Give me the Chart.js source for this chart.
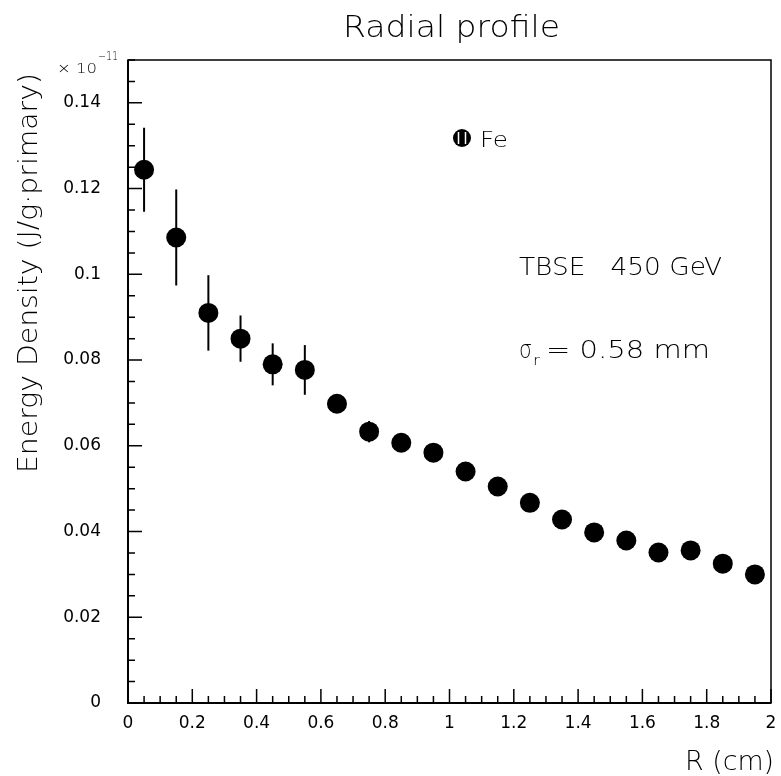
<!DOCTYPE html>
<html>
<head>
<meta charset="utf-8">
<script src="https://cdn.jsdelivr.net/npm/chart.js@4.4.0/dist/chart.umd.min.js"></script>
<style>
  html, body { margin: 0; padding: 0; background: #fff; }
  #wrap { width: 781px; height: 776px; }
</style>
</head>
<body>
<div id="wrap"><canvas id="profile"></canvas></div>
<script>
// radial profile, Fe, TBSE 450 GeV
const radius = [0.05, 0.15, 0.25, 0.35, 0.45, 0.55, 0.65, 0.75, 0.85, 0.95,
                1.05, 1.15, 1.25, 1.35, 1.45, 1.55, 1.65, 1.75, 1.85, 1.95];
const energy = [0.1244, 0.1086, 0.0910, 0.0850, 0.0790, 0.0777, 0.0698, 0.0633, 0.0607, 0.0584,
                0.0540, 0.0505, 0.0467, 0.0428, 0.0398, 0.0379, 0.0351, 0.0356, 0.0325, 0.0300];
const energyErr = [0.0098, 0.0112, 0.0088, 0.0054, 0.0049, 0.0058, 0.0015, 0.0025, 0.0015, 0.0015,
                   0.0015, 0.0015, 0.0015, 0.0015, 0.0015, 0.0015, 0.0015, 0.0015, 0.0015, 0.0015];
const yTicks = [0, 0.02, 0.04, 0.06, 0.08, 0.1, 0.12, 0.14];
const xTicks = [0, 0.2, 0.4, 0.6, 0.8, 1, 1.2, 1.4, 1.6, 1.8, 2];

const FONT = 'DejaVu Sans';

// draw text stretched/squeezed to a given width
function fitText(ctx, text, x, y, w, size) {
  ctx.save();
  ctx.font = '300 ' + size + 'px "' + FONT + '"';
  const m = ctx.measureText(text).width;
  ctx.translate(x, y);
  ctx.scale(w / m, 1);
  ctx.textAlign = 'left';
  ctx.textBaseline = 'alphabetic';
  ctx.fillText(text, 0, 0);
  ctx.restore();
}

const errorBars = {
  id: 'errorBars',
  beforeDatasetsDraw(chart) {
    const ctx = chart.ctx, xs = chart.scales.x, ys = chart.scales.y;
    ctx.save();
    ctx.strokeStyle = '#000';
    ctx.lineWidth = 2;
    radius.forEach((r, i) => {
      const px = xs.getPixelForValue(r);
      ctx.beginPath();
      ctx.moveTo(px, ys.getPixelForValue(energy[i] + energyErr[i]));
      ctx.lineTo(px, ys.getPixelForValue(energy[i] - energyErr[i]));
      ctx.stroke();
    });
    ctx.restore();
  }
};

const frame = {
  id: 'frame',
  afterDraw(chart) {
    const ctx = chart.ctx, a = chart.chartArea;
    const xs = chart.scales.x, ys = chart.scales.y;
    ctx.save();
    ctx.strokeStyle = '#000';
    ctx.lineWidth = 1.5;
    ctx.strokeRect(a.left, a.top, a.right - a.left, a.bottom - a.top);
    ctx.lineWidth = 2;
    ctx.beginPath();
    ctx.moveTo(a.left, a.top); ctx.lineTo(a.left, a.bottom); ctx.lineTo(a.right, a.bottom);
    ctx.stroke();
    // ticks pointing inwards
    ctx.lineWidth = 1.5;
    ctx.beginPath();
    for (let i = 0; i <= 30; i++) {
      const py = ys.getPixelForValue(i * 0.005);
      const len = i % 4 === 0 ? 14 : 7;
      ctx.moveTo(a.left, py); ctx.lineTo(a.left + len, py);
    }
    for (let i = 0; i <= 40; i++) {
      const px = xs.getPixelForValue(i * 0.05);
      const len = i % 4 === 0 ? 14 : 7;
      ctx.moveTo(px, a.bottom); ctx.lineTo(px, a.bottom - len);
    }
    ctx.stroke();

    ctx.fillStyle = '#000';
    fitText(ctx, 'Radial profile', 343, 37, 217, 31);
    fitText(ctx, 'R (cm)', 685, 770, 89, 27);
    fitText(ctx, '\u00d7 10', 57, 73, 40, 14);
    fitText(ctx, '\u221211', 98, 60, 20, 12);

    ctx.save();
    ctx.translate(37, 473);
    ctx.rotate(-Math.PI / 2);
    fitText(ctx, 'Energy Density (J/g\u00b7primary)', 0, 0, 400, 27);
    ctx.restore();

    // legend marker
    ctx.beginPath();
    ctx.arc(462, 138, 9, 0, Math.PI * 2);
    ctx.fill();
    ctx.strokeStyle = '#fff';
    ctx.lineWidth = 1.5;
    ctx.beginPath();
    ctx.moveTo(458.5, 132); ctx.lineTo(458.5, 144);
    ctx.moveTo(465.5, 132); ctx.lineTo(465.5, 144);
    ctx.stroke();
    fitText(ctx, 'Fe', 480, 147, 28, 21);

    fitText(ctx, 'TBSE   450 GeV', 519, 275, 203, 25);
    fitText(ctx, '\u03c3', 519, 358, 13, 25);
    fitText(ctx, 'r', 533, 365, 7, 14);
    fitText(ctx, '= 0.58 mm', 546, 358, 164, 25);
    ctx.restore();
  }
};

new Chart(document.getElementById('profile'), {
  type: 'scatter',
  data: {
    datasets: [{
      label: 'Fe',
      data: radius.map((r, i) => ({ x: r, y: energy[i] })),
      pointRadius: 10,
      pointBorderWidth: 0,
      backgroundColor: '#000',
      borderColor: '#000'
    }]
  },
  options: {
    responsive: true,
    maintainAspectRatio: false,
    animation: false,
    layout: { padding: { top: 60, right: 9, left: 0, bottom: 0 } },
    plugins: { legend: { display: false }, tooltip: { enabled: false } },
    scales: {
      x: {
        type: 'linear',
        min: 0, max: 2,
        afterBuildTicks: s => { s.ticks = xTicks.map(v => ({ value: v })); },
        afterFit: s => { s.height = 73; },
        grid: { display: false },
        border: { display: false },
        ticks: {
          color: '#000', padding: 2, maxRotation: 0, autoSkip: false,
          font: { family: FONT, size: 17 },
          callback: v => String(+v.toFixed(1))
        }
      },
      y: {
        min: 0, max: 0.15,
        afterBuildTicks: s => { s.ticks = yTicks.map(v => ({ value: v })); },
        afterFit: s => { s.width = 128; },
        grid: { display: false },
        border: { display: false },
        ticks: {
          color: '#000', padding: 19,
          font: { family: FONT, size: 17 },
          callback: v => String(+v.toFixed(2))
        }
      }
    }
  },
  plugins: [errorBars, frame]
});
</script>
</body>
</html>
